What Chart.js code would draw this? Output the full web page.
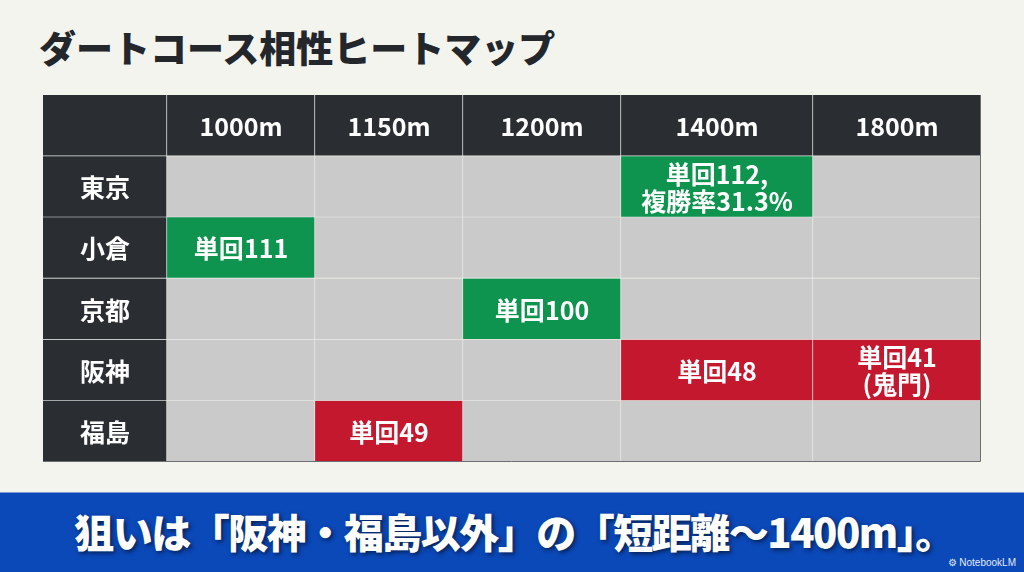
<!DOCTYPE html>
<html>
<head>
<meta charset="utf-8">
<script src="https://cdn.jsdelivr.net/npm/chart.js@4.4.1/dist/chart.umd.min.js"></script>
<style>
    body {
        margin: 0;
        width: 1024px;
        height: 572px;
        overflow: hidden;
        position: relative;
        background: #f4f4ef;
        font-family: "Noto Sans CJK JP", "Noto Sans", sans-serif;
    }
    #title {
        position: absolute;
        left: 39px;
        top: 26px;
        font-size: 37px;
        line-height: 42px;
        font-weight: 900;
        color: #23272b;
        white-space: nowrap;
    }
    #heatmap {
        position: absolute;
        left: 0;
        top: 0;
    }
    #banner {
        position: absolute;
        left: 0;
        top: 492px;
        width: 1024px;
        height: 80px;
        background: #0b48b8;
        border-top: 1px solid #7f9dd6;
        box-sizing: border-box;
    }
    #banner .msg {
        position: absolute;
        left: 0;
        right: 0;
        top: 16px;
        text-align: center;
        font-size: 40px;
        line-height: 44px;
        font-weight: 900;
        color: #ffffff;
        letter-spacing: -1.5px;
        text-shadow: 2px 2px 4px rgba(0, 0, 0, 0.55);
        white-space: nowrap;
        padding-left: 4px;
    }
    #banner .mark {
        position: absolute;
        right: 8px;
        bottom: 4px;
        font-family: "Liberation Sans", sans-serif;
        font-size: 10px;
        color: #e4ebf8;
    }
</style>
</head>
<body>
<div id="title">ダートコース相性ヒートマップ</div>
<canvas id="heatmap" width="1024" height="572"></canvas>
<div id="banner">
    <div class="msg">狙いは「阪神・福島以外」の「短距離〜1400m」。</div>
    <div class="mark">⚙ NotebookLM</div>
</div>
<script>
// rows and columns of the table
const courses = ['東京', '小倉', '京都', '阪神', '福島'];
const distances = ['1000m', '1150m', '1200m', '1400m', '1800m'];

// highlighted cells
const noteCourse = ['東京', '小倉', '京都', '阪神', '阪神', '福島'];
const noteDistance = ['1400m', '1000m', '1200m', '1400m', '1800m', '1150m'];
const noteText = ['単回112,\n複勝率31.3%', '単回111', '単回100', '単回48', '単回41\n(鬼門)', '単回49'];
const noteKind = ['good', 'good', 'good', 'bad', 'bad', 'bad'];

// layout: header column first, then one width per distance (table is not evenly split)
const colWidths = [124, 148, 148, 158, 192, 168];
const colors = { head: '#2a2e33', empty: '#cacaca', good: '#0f9450', bad: '#c4182f' };

document.addEventListener('DOMContentLoaded', function () {
    const rowLabels = [''].concat(courses);
    const colLabels = [''].concat(distances);
    const edges = [0];
    colWidths.forEach(w => edges.push(edges[edges.length - 1] + w));

    function findNote(r, c) {
        for (let i = 0; i < noteCourse.length; i++) {
            if (noteCourse[i] === rowLabels[r] && noteDistance[i] === colLabels[c]) return i;
        }
        return -1;
    }

    function cellColor(r, c) {
        if (r === 0 || c === 0) return colors.head;
        const i = findNote(r, c);
        return i < 0 ? colors.empty : colors[noteKind[i]];
    }

    function cellLabel(r, c) {
        if (r === 0) return colLabels[c];
        if (c === 0) return rowLabels[r];
        const i = findNote(r, c);
        return i < 0 ? '' : noteText[i];
    }

    const datasets = colLabels.map((name, c) => ({
        label: name || 'head',
        data: rowLabels.map(() => [edges[c], edges[c + 1]]),
        backgroundColor: rowLabels.map((_, r) => cellColor(r, c)),
        borderColor: '#e9ebe8',
        borderWidth: { top: 0, left: 0, right: 1, bottom: 1 },
        borderSkipped: false,
        barPercentage: 1,
        categoryPercentage: 1,
        grouped: false
    }));

    // write the text inside every cell
    const cellText = {
        id: 'cellText',
        afterDatasetsDraw(chart) {
            const ctx = chart.ctx;
            ctx.save();
            ctx.textAlign = 'center';
            ctx.textBaseline = 'middle';
            ctx.fillStyle = '#ffffff';
            ctx.font = 'bold 25px "Noto Sans CJK JP"';
            chart.data.datasets.forEach((ds, c) => {
                chart.getDatasetMeta(c).data.forEach((bar, r) => {
                    const t = cellLabel(r, c);
                    if (!t) return;
                    const p = bar.getProps(['x', 'y', 'base'], true);
                    const lines = t.split('\n');
                    const cx = (p.x + p.base) / 2;
                    lines.forEach((ln, i) => {
                        ctx.fillText(ln, cx, p.y + 1 + (i - (lines.length - 1) / 2) * 27);
                    });
                });
            });
            // thin outer frame on the right and bottom
            const a = chart.chartArea;
            ctx.strokeStyle = '#6b6e70';
            ctx.lineWidth = 1;
            ctx.beginPath();
            ctx.moveTo(a.right - 0.5, a.top);
            ctx.lineTo(a.right - 0.5, a.bottom - 0.5);
            ctx.lineTo(a.left, a.bottom - 0.5);
            ctx.stroke();
            ctx.restore();
        }
    };

    const ctx = document.getElementById('heatmap').getContext('2d');
    new Chart(ctx, {
        type: 'bar',
        data: { labels: rowLabels, datasets: datasets },
        options: {
            indexAxis: 'y',
            responsive: false,
            animation: false,
            layout: { padding: { left: 43, right: 43, top: 95, bottom: 110 } },
            scales: {
                x: { type: 'linear', min: 0, max: edges[edges.length - 1], display: false },
                y: { display: false }
            },
            plugins: {
                legend: { display: false },
                tooltip: { enabled: false }
            }
        },
        plugins: [cellText]
    });
});
</script>
</body>
</html>
